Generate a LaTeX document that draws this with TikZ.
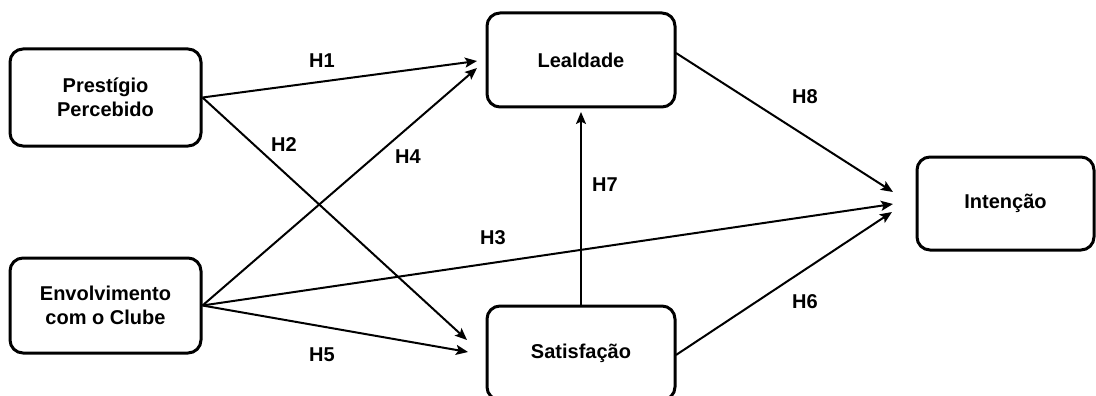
\documentclass[tikz,border=0pt]{standalone}
\usepackage{fontspec}
\setmainfont{Liberation Sans}
\usetikzlibrary{arrows.meta,calc}
\begin{document}
\begin{tikzpicture}[x=1pt,y=-1pt,
  box/.style={draw,line width=3pt,rounded corners=13pt,align=center,
    font=\fontsize{20}{23.5}\selectfont\bfseries,inner sep=0pt},
  arr/.style={line width=2pt,-{Stealth[length=12pt,width=10pt,inset=2.5pt]}},
  lab/.style={font=\fontsize{20}{23}\selectfont\bfseries,inner sep=0pt}]
\clip (0,0) rectangle (1096,396);
\node[box,minimum width=191pt,minimum height=97pt] (pp) at (105.5,97.5) {Prestígio\\Percebido};
\node[box,minimum width=191pt,minimum height=95pt] (ev) at (105.5,305.5) {Envolvimento\\com o Clube};
\node[box,minimum width=188pt,minimum height=94pt] (lea) at (581,60) {Lealdade};
\node[box,minimum width=188pt,minimum height=94pt] (sat) at (581,353) {Satisfação};
\node[box,minimum width=177pt,minimum height=93pt] (int) at (1005.5,203.5) {Intenção};
% arrow tip coordinates
\coordinate (t1) at (477,61);
\coordinate (t4) at (477,68);
\coordinate (t2) at (467,340);
\coordinate (t5) at (468,352);
\coordinate (t8) at (893,192);
\coordinate (t3) at (893,204);
\coordinate (t6) at (892,212);
\coordinate (t7) at (581,112);
\coordinate (s8) at (676,53);
\coordinate (s6) at (676,355);
\draw[arr] (pp.east) -- (t1);
\draw[arr] (pp.east) -- (t2);
\draw[arr] (ev.east) -- (t4);
\draw[arr] (ev.east) -- (t3);
\draw[arr] (ev.east) -- (t5);
\draw[arr] (s8) -- (t8);
\draw[arr] (s6) -- (t6);
\draw[arr] (sat.north) -- (t7);
\node[lab] (h1) at (322,61) {H1};
\node[lab] (h2) at (284,145) {H2};
\node[lab] (h4) at (408,157) {H4};
\node[lab] (h3) at (493,238) {H3};
\node[lab] (h5) at (322,355) {H5};
\node[lab] (h7) at (605,185) {H7};
\node[lab] (h8) at (805,97) {H8};
\node[lab] (h6) at (805,302) {H6};
\end{tikzpicture}
\end{document}
